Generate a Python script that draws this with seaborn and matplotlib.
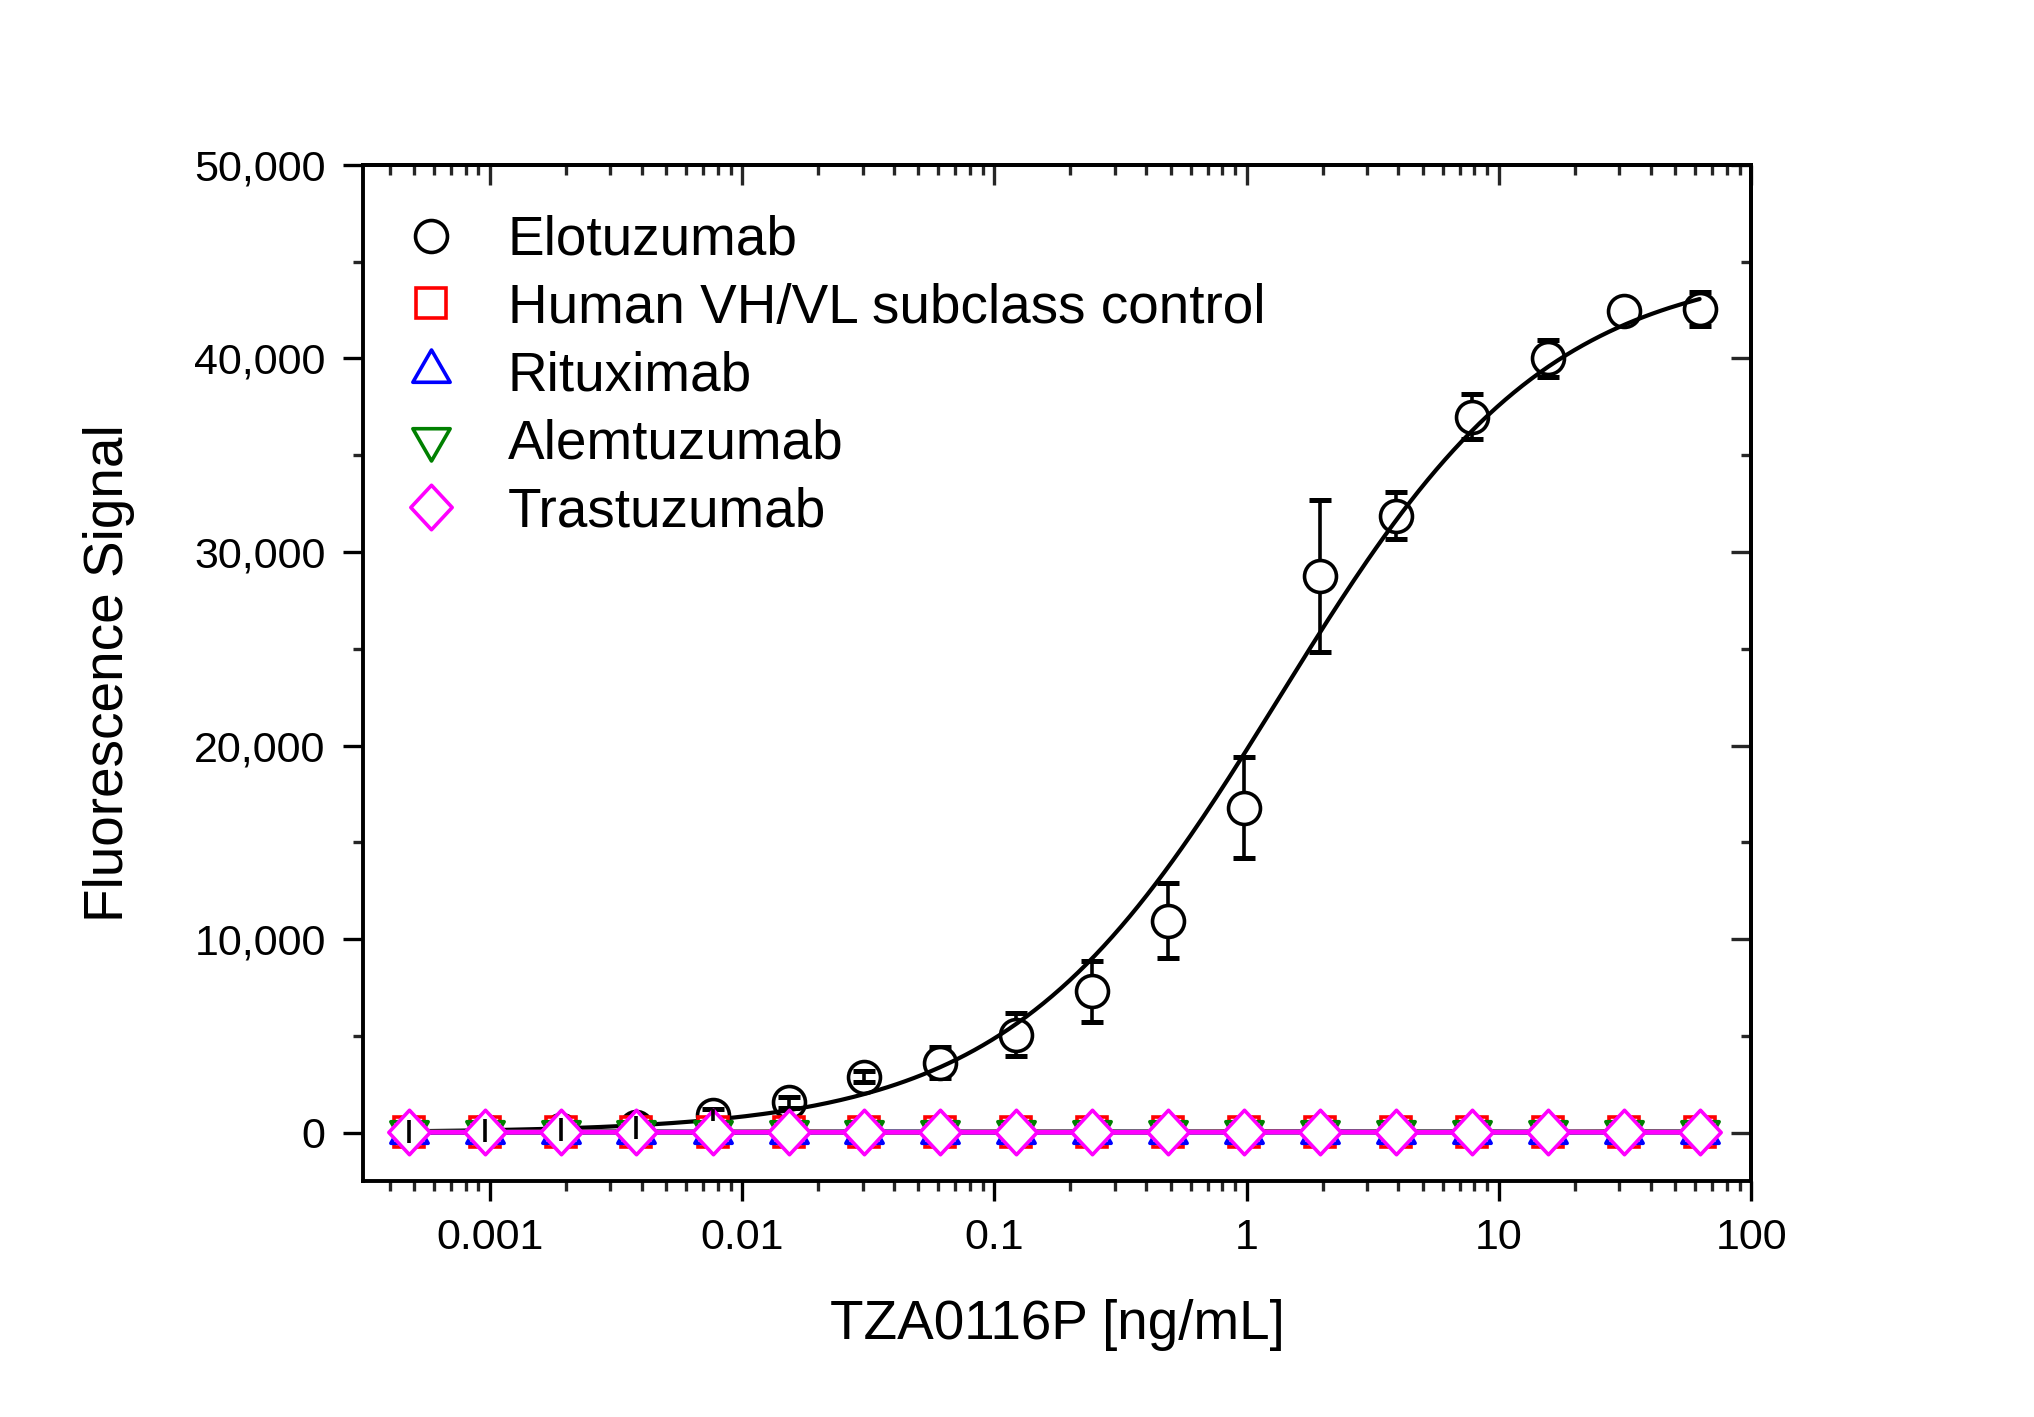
import numpy as np
import pandas as pd
import matplotlib
matplotlib.use("Agg")
import matplotlib.pyplot as plt
import seaborn as sns
from matplotlib.lines import Line2D
from matplotlib.path import Path
from matplotlib.ticker import FuncFormatter, LogLocator, NullFormatter, MultipleLocator

# concentrations of the 2-fold dilution series [ng/mL]
conc = [0.000477, 0.000954, 0.00191, 0.00381, 0.00763, 0.0153, 0.0305, 0.061,
        0.122, 0.244, 0.488, 0.977, 1.95, 3.91, 7.81, 15.6, 31.25, 62.5]

# Elotuzumab mean signal and SD
elotuzumab = [60, 110, 160, 280, 900, 1580, 2900, 3620,
              5060, 7300, 10960, 16790, 28740, 31880, 36990, 40010, 42430, 42560]
elotuzumab_sd = [600, 600, 600, 600, 320, 280, 300, 800,
                 1100, 1570, 1950, 2620, 3930, 1210, 1150, 950, 300, 900]

# negative controls, all sitting at the baseline
human_ctrl = [30, 25, 40, 35, 20, 45, 30, 25, 40, 35, 30, 50, 45, 40, 35, 30, 45, 40]
rituximab = [20, 30, 25, 35, 30, 20, 40, 30, 25, 35, 30, 25, 40, 30, 35, 25, 30, 35]
alemtuzumab = [40, 35, 30, 45, 35, 40, 30, 45, 35, 40, 45, 35, 30, 40, 45, 35, 40, 30]
trastuzumab = [25, 20, 30, 25, 30, 25, 20, 30, 25, 20, 30, 25, 30, 20, 25, 30, 25, 20]

# 4-parameter logistic fit of Elotuzumab
fit_bottom, fit_top, fit_ec50, fit_hill = 0, 45000, 1.35, 0.81

labels = ['Elotuzumab', 'Human VH/VL subclass control', 'Rituximab',
          'Alemtuzumab', 'Trastuzumab']

sns.set_style("ticks")
plt.rcParams['font.family'] = ['Liberation Sans', 'DejaVu Sans']
plt.rcParams['text.color'] = 'black'
plt.rcParams['axes.labelcolor'] = 'black'

fig = plt.figure(figsize=(20.34, 14.17), dpi=100)
ax = fig.add_axes([0.1785, 0.1665, 0.6824, 0.7171])

# Origin-style symbols: centroid-centred triangles and a slightly tall diamond
tri_up = Path([(0, 0.577), (-0.5, -0.289), (0.5, -0.289), (0, 0.577)], closed=True)
tri_dn = Path([(0, -0.577), (-0.5, 0.289), (0.5, 0.289), (0, -0.577)], closed=True)
diamond = Path([(0, 1), (0.93, 0), (0, -1), (-0.93, 0), (0, 1)], closed=True)

mew = 2.6
circ_ms = 23
df = pd.DataFrame({'conc': conc, 'elo': elotuzumab, 'sd': elotuzumab_sd})
low = df.iloc[:7]    # points hidden under the control symbols
high = df.iloc[7:]

# fitted curve
xs = np.logspace(np.log10(conc[0]), np.log10(conc[-1]), 300)
ys = fit_bottom + (fit_top - fit_bottom) / (1 + (fit_ec50 / xs) ** fit_hill)
sns.lineplot(x=xs, y=ys, color='black', linewidth=3.0, zorder=3, ax=ax)

# Elotuzumab points + error bars
ax.errorbar(high['conc'], high['elo'], yerr=high['sd'], fmt='none', ecolor='black',
            elinewidth=2.6, capsize=8, capthick=3.6, zorder=1.5)
sns.scatterplot(x=high['conc'], y=high['elo'], marker='o', s=circ_ms ** 2, facecolor='white',
                edgecolor='black', linewidth=mew, zorder=2.5, ax=ax)
sns.scatterplot(x=low['conc'], y=low['elo'], marker='o', s=circ_ms ** 2, facecolor='white',
                edgecolor='black', linewidth=mew, zorder=1, ax=ax)
eb = ax.errorbar(low['conc'], low['elo'], yerr=low['sd'], fmt='none', ecolor='black',
                 elinewidth=2.6, capsize=8, capthick=3.6, zorder=8)
# bars on top of the control symbols, caps tucked underneath them
for cap in eb[1]:
    cap.set_zorder(3.5)

controls = [
    (human_ctrl, '#FF0000', 's', 21),
    (rituximab, '#0000FF', tri_up, 31),
    (alemtuzumab, '#008000', tri_dn, 31),
    (trastuzumab, '#FF00FF', diamond, 32),
]
for i, (vals, col, mk, ms) in enumerate(controls):
    sns.lineplot(x=conc, y=vals, color=col, linewidth=3.4, marker=mk, markersize=ms,
                 markerfacecolor='white', markeredgecolor=col, markeredgewidth=mew,
                 zorder=4 + i, ax=ax)

# axes
ax.set_xscale('log')
ax.set_xlim(3.14e-4, 100)
ax.set_ylim(-2500, 50000)
ax.xaxis.set_major_locator(LogLocator(base=10))
ax.xaxis.set_minor_locator(LogLocator(base=10, subs=np.arange(2, 10)))
ax.xaxis.set_major_formatter(FuncFormatter(lambda v, p: f"{v:g}"))
ax.xaxis.set_minor_formatter(NullFormatter())
ax.yaxis.set_major_locator(MultipleLocator(10000))
ax.yaxis.set_minor_locator(MultipleLocator(5000))
ax.yaxis.set_major_formatter(FuncFormatter(lambda v, p: f"{v:,.0f}"))

ax.tick_params(which='major', direction='out', length=14.4, width=2.4,
               labelsize=31, pad=12.5, colors='black')
ax.tick_params(which='minor', direction='out', length=7.2, width=2.4)
for s in ax.spines.values():
    s.set_visible(True)
    s.set_linewidth(2.8)
    s.set_color('black')

# inward ticks on top / right
top = ax.secondary_xaxis('top')
top.xaxis.set_major_locator(LogLocator(base=10))
top.xaxis.set_minor_locator(LogLocator(base=10, subs=np.arange(2, 10)))
top.xaxis.set_major_formatter(NullFormatter())
top.xaxis.set_minor_formatter(NullFormatter())
top.tick_params(which='major', direction='in', length=14.4, width=2.4)
top.tick_params(which='minor', direction='in', length=7.2, width=2.4)
right = ax.secondary_yaxis('right')
right.yaxis.set_major_locator(MultipleLocator(10000))
right.yaxis.set_minor_locator(MultipleLocator(5000))
right.yaxis.set_major_formatter(NullFormatter())
right.tick_params(which='major', direction='in', length=14.4, width=2.4)
right.tick_params(which='minor', direction='in', length=7.2, width=2.4)
for sec in (top, right):
    for s in sec.spines.values():
        s.set_linewidth(2.8)
        s.set_color('black')

ax.set_xlabel('TZA0116P [ng/mL]', fontsize=39.5)
ax.set_ylabel('Fluorescence Signal', fontsize=39.5)
ax.xaxis.set_label_coords(0.5, -0.116)
ax.yaxis.set_label_coords(-0.164, 0.5)

# legend (symbols only)
handles = [Line2D([], [], ls='none', marker='o', ms=circ_ms, mfc='white', mec='black', mew=mew)]
for vals, col, mk, ms in controls:
    handles.append(Line2D([], [], ls='none', marker=mk, ms=ms, mfc='white',
                          mec=col, mew=mew))
ax.legend(handles, labels, loc='upper left', bbox_to_anchor=(0.029, 0.951),
          frameon=False, fontsize=39.5, handlelength=1.0, handletextpad=0.9,
          borderpad=0, borderaxespad=0, labelspacing=0.29)

fig.savefig('out.png', dpi=100)
